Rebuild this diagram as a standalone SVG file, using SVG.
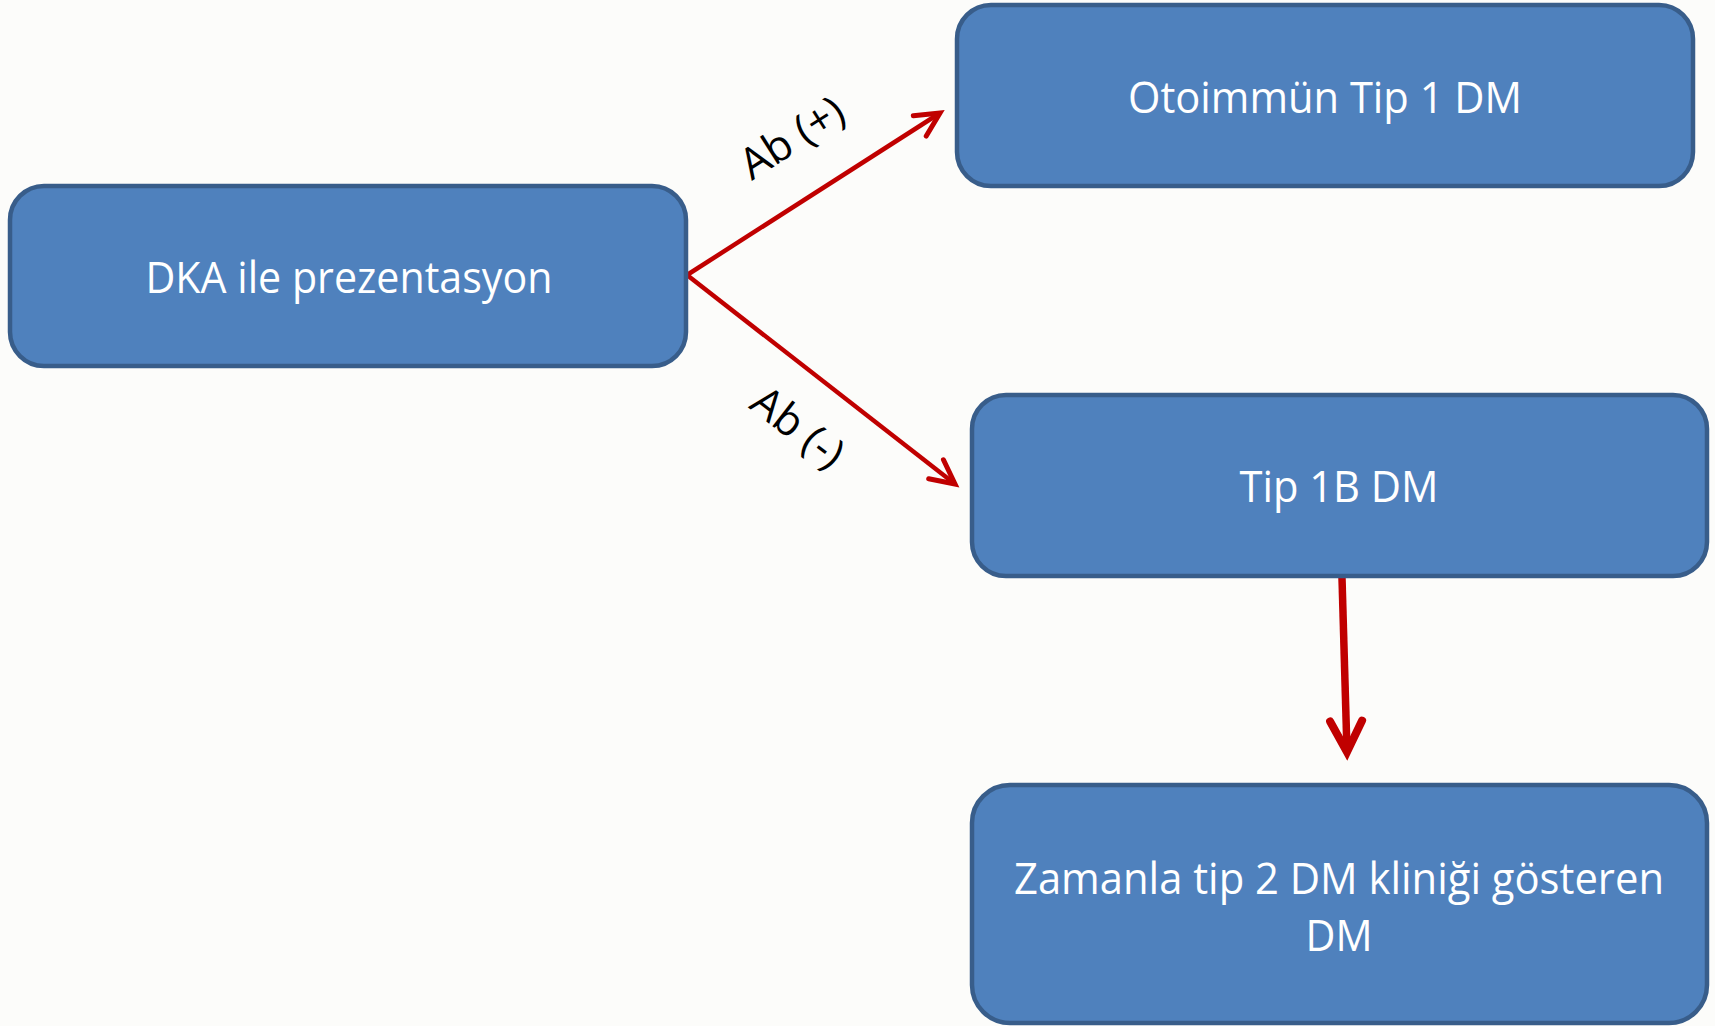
<svg xmlns="http://www.w3.org/2000/svg" width="1715" height="1026" viewBox="0 0 1715 1026">
  <style>
    .box { fill: #4F81BD; stroke: #385D8A; stroke-width: 4.5; }
    .lbl { font-family: "Open Sans", "Noto Sans", sans-serif; font-size: 43px; fill: #FFFFFF; text-anchor: middle; }
    .edge-lbl { font-family: "Open Sans", "Noto Sans", sans-serif; font-size: 43px; fill: #000000; text-anchor: middle; }
    .conn { stroke: #C00000; fill: none; }
  </style>
  <defs>
    <marker id="head" markerUnits="userSpaceOnUse" orient="auto" markerWidth="60" markerHeight="60" refX="0" refY="0" viewBox="-40 -30 60 60" overflow="visible">
      <path d="M-24,-12 L0,0 L-24,12" fill="none" stroke="#C00000" stroke-width="5" stroke-linecap="round" stroke-linejoin="miter"/>
    </marker>
    <marker id="headBig" markerUnits="userSpaceOnUse" orient="auto" markerWidth="80" markerHeight="80" refX="0" refY="0" viewBox="-50 -40 80 80" overflow="visible">
      <path d="M-31,-16 L0,0 L-31,16" fill="none" stroke="#C00000" stroke-width="8" stroke-linecap="round" stroke-linejoin="miter"/>
    </marker>
  </defs>
  <rect x="0" y="0" width="1715" height="1026" fill="#FCFCFA"/>

  <g id="connectors">
    <line class="conn" x1="687" y1="275" x2="940" y2="113" stroke-width="4.5" marker-end="url(#head)"/>
    <line class="conn" x1="687" y1="275" x2="955" y2="484" stroke-width="4.5" marker-end="url(#head)"/>
    <line class="conn" x1="1342" y1="578" x2="1347" y2="752" stroke-width="7.5" marker-end="url(#headBig)"/>
    <text class="edge-lbl" transform="translate(800,150) rotate(-32.6)">Ab (+)</text>
    <text class="edge-lbl" transform="translate(789,439) rotate(37.6)">Ab (-)</text>
  </g>

  <g id="node-dka">
    <rect class="box" x="10" y="186" width="676" height="180" rx="34" ry="34"/>
    <text class="lbl" x="349" y="293" textLength="407" lengthAdjust="spacingAndGlyphs">DKA ile prezentasyon</text>
  </g>

  <g id="node-otoimmun">
    <rect class="box" x="957" y="5" width="736" height="181" rx="34" ry="34"/>
    <text class="lbl" x="1325" y="113" textLength="394" lengthAdjust="spacingAndGlyphs">Otoimmün Tip 1 DM</text>
  </g>

  <g id="node-tip1b">
    <rect class="box" x="972" y="395" width="735" height="181" rx="34" ry="34"/>
    <text class="lbl" x="1339" y="502" textLength="199" lengthAdjust="spacingAndGlyphs">Tip 1B DM</text>
  </g>

  <g id="node-zamanla">
    <rect class="box" x="972" y="785" width="735" height="238" rx="38" ry="38"/>
    <text class="lbl" x="1339" y="894" textLength="650" lengthAdjust="spacingAndGlyphs">Zamanla tip 2 DM kliniği gösteren</text>
    <text class="lbl" x="1339" y="951" textLength="67" lengthAdjust="spacingAndGlyphs">DM</text>
  </g>
</svg>
